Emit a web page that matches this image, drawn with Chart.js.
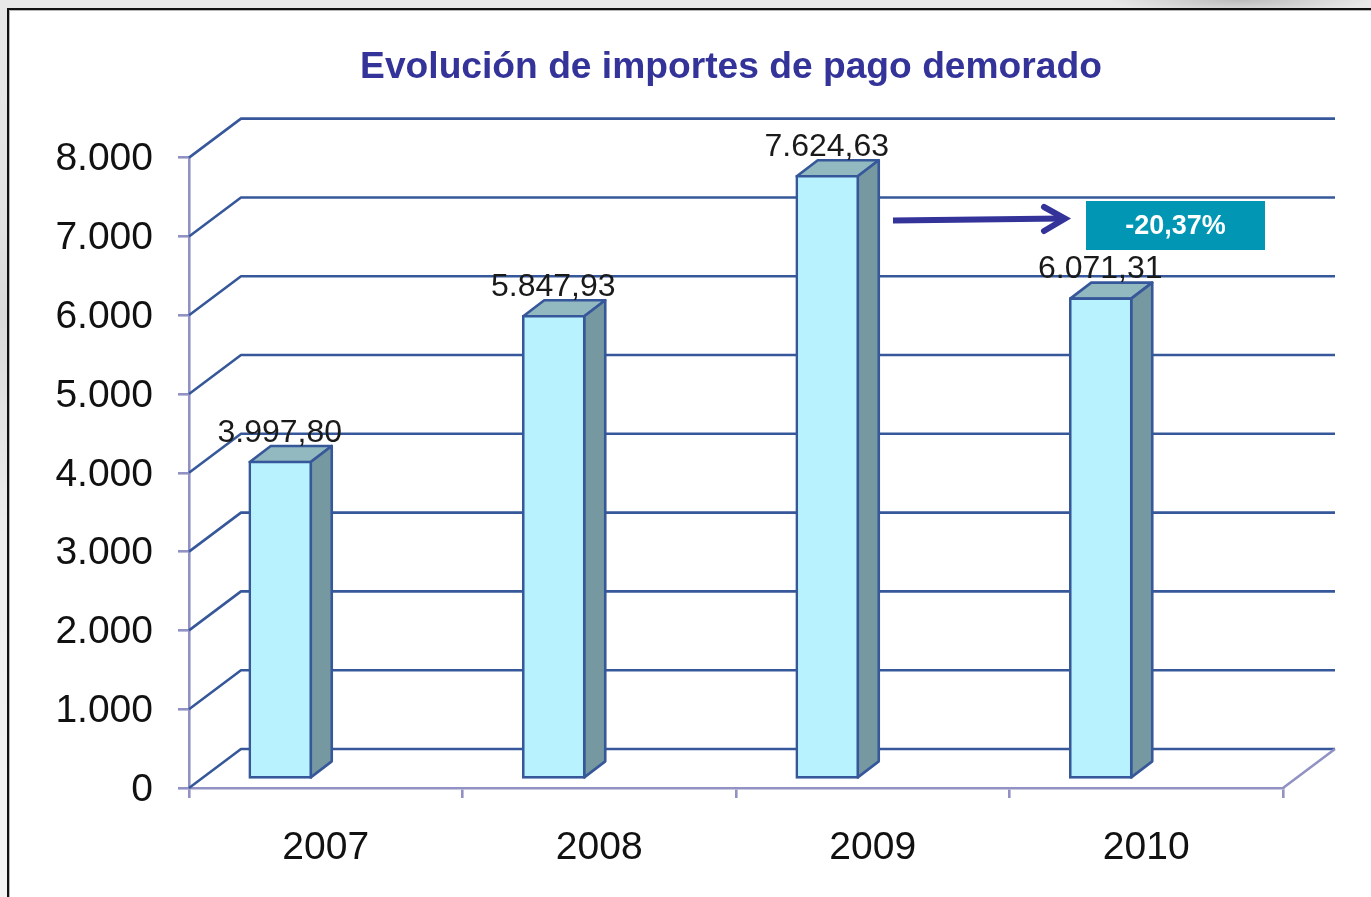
<!DOCTYPE html>
<html lang="es">
<head>
<meta charset="utf-8">
<title>Evolución de importes de pago demorado</title>
<style>
html,body{margin:0;padding:0;width:1371px;height:897px;overflow:hidden;}
body{position:relative;background:
  radial-gradient(ellipse 130px 14px at 1240px 0px,#bcbcbc 0%,rgba(188,188,188,0) 100%),
  linear-gradient(180deg,#e8e8e8 0%,#e2e2e2 25%,#dadada 35%,#eeeeee 60%,#f4f4f4 100%);}
#frame{position:absolute;left:7px;top:8px;right:-4px;bottom:-4px;background:#fff;border-left:2px solid #111;border-top:2px solid #111;box-shadow:inset 1px 1px 0 #b8b8b8;}
canvas{position:absolute;left:0;top:0;display:block;}
</style>
</head>
<body>
<div id="frame"></div>
<canvas id="c" width="1371" height="897"></canvas>
<script src="https://cdn.jsdelivr.net/npm/chart.js@4"></script>
<script>
const titleText = "Evolución de importes de pago demorado";
const categories = ["2007", "2008", "2009", "2010"];
const importes = [3997.80, 5847.93, 7624.63, 6071.31];
const yTickLabels = ["0", "1.000", "2.000", "3.000", "4.000", "5.000", "6.000", "7.000", "8.000"];
const changeLabel = "-20,37%";

const FONT = '"Liberation Sans", Arial, sans-serif';
const WALL = {dx: 52, dy: -39};
const BAR_SHIFT = {dx: -45.5, dy: -12};
const BAR_DEPTH = {dx: 21, dy: -16};
const LINE = "#36589a", AXIS = "#9191c4";

const fmt = v => v.toLocaleString("de-DE", {minimumFractionDigits: 2, maximumFractionDigits: 2});

const chart3d = {
  id: "chart3d",
  afterLayout(chart) {
    const t = chart.titleBlock;
    t.left = 731 - 500; t.right = 731 + 500;
  },
  beforeDraw(chart) {
    // nudge the value-axis labels down to sit where the reference has them
    const y = chart.scales.y;
    y.getLabelItems(chart.chartArea).forEach(item => {
      if (!item.nudged) { item.options.translation[1] += 2; item.nudged = true; }
    });
  },
  beforeDatasetsDraw(chart) {
    const {ctx, scales: {x, y}} = chart;
    ctx.save();
    ctx.lineWidth = 2.6; ctx.strokeStyle = LINE; ctx.lineJoin = "round";
    y.ticks.forEach(t => {
      const py = y.getPixelForValue(t.value);
      ctx.beginPath();
      ctx.moveTo(x.left, py);
      ctx.lineTo(x.left + WALL.dx, py + WALL.dy);
      ctx.lineTo(x.right + WALL.dx, py + WALL.dy);
      ctx.stroke();
    });
    ctx.strokeStyle = AXIS;
    const py0 = y.getPixelForValue(0);
    ctx.beginPath();
    ctx.moveTo(x.right, py0);
    ctx.lineTo(x.right + WALL.dx, py0 + WALL.dy);
    ctx.stroke();
    ctx.restore();
  },
  beforeDatasetDraw(chart, args) {
    const {ctx} = chart;
    const meta = chart.getDatasetMeta(args.index);
    ctx.save();
    ctx.translate(BAR_SHIFT.dx, BAR_SHIFT.dy);
    ctx.lineWidth = 2.6; ctx.strokeStyle = LINE; ctx.lineJoin = "round";
    meta.data.forEach(bar => {
      const r = bar.getProps(["x", "y", "base", "width"], true);
      const L = r.x - r.width / 2 + 1, R = r.x + r.width / 2 - 1, T = r.y + 1, B = r.base - 1;
      ctx.fillStyle = "#92b8c0";
      ctx.beginPath();
      ctx.moveTo(L, T);
      ctx.lineTo(L + BAR_DEPTH.dx, T + BAR_DEPTH.dy);
      ctx.lineTo(R + BAR_DEPTH.dx, T + BAR_DEPTH.dy);
      ctx.lineTo(R, T);
      ctx.closePath(); ctx.fill(); ctx.stroke();
      ctx.fillStyle = "#7698a1";
      ctx.beginPath();
      ctx.moveTo(R, T);
      ctx.lineTo(R + BAR_DEPTH.dx, T + BAR_DEPTH.dy);
      ctx.lineTo(R + BAR_DEPTH.dx, B + BAR_DEPTH.dy);
      ctx.lineTo(R, B);
      ctx.closePath(); ctx.fill(); ctx.stroke();
    });
    // the front faces are drawn by Chart.js inside this shifted context
  },
  afterDatasetDraw(chart) { chart.ctx.restore(); },
  afterDatasetsDraw(chart, args) {
    const {ctx} = chart;
    const meta = chart.getDatasetMeta(0);
    ctx.save();
    ctx.fillStyle = "#1a1a1a";
    ctx.font = "32px " + FONT;
    ctx.textAlign = "center"; ctx.textBaseline = "middle";
    meta.data.forEach((bar, i) => {
      ctx.fillText(fmt(importes[i]), bar.x + BAR_SHIFT.dx - 0.5, bar.y + BAR_SHIFT.dy - 28);
    });
    // change annotation
    ctx.strokeStyle = "#333399"; ctx.lineWidth = 6; ctx.lineCap = "butt";
    ctx.beginPath(); ctx.moveTo(893, 220.5); ctx.lineTo(1062, 218.5); ctx.stroke();
    ctx.lineCap = "round"; ctx.lineJoin = "miter"; ctx.lineWidth = 6;
    ctx.beginPath(); ctx.moveTo(1044, 207); ctx.lineTo(1065, 218.5); ctx.lineTo(1044, 231); ctx.stroke();
    ctx.fillStyle = "#0096b4";
    ctx.fillRect(1086, 201, 179, 49);
    ctx.fillStyle = "#ffffff";
    ctx.font = "bold 27px " + FONT;
    ctx.fillText(changeLabel, 1175.5, 226.5);
    ctx.restore();
  }
};

new Chart(document.getElementById("c"), {
  type: "bar",
  data: {
    labels: categories,
    datasets: [{
      label: "Importes",
      data: importes,
      backgroundColor: "#b8f2ff",
      borderColor: LINE,
      borderWidth: 2.6,
      borderSkipped: false,
      barThickness: 63,
      base: -30,
      clip: false
    }]
  },
  plugins: [chart3d],
  options: {
    responsive: false,
    animation: false,
    devicePixelRatio: 1,
    layout: {padding: {left: 0, right: 88, top: 0, bottom: 0}},
    plugins: {
      legend: {display: false},
      tooltip: {enabled: false},
      title: {
        display: true,
        text: titleText,
        color: "#333399",
        font: {family: FONT, size: 37.2, weight: "bold", lineHeight: 1.2},
        padding: {top: 45, bottom: 68}
      }
    },
    scales: {
      x: {
        afterFit(s) { s.height = 109; },
        grid: {drawOnChartArea: false, drawTicks: true, tickLength: 10, color: AXIS, lineWidth: 2.6},
        border: {color: AXIS, width: 2.6},
        ticks: {color: "#111111", font: {family: FONT, size: 39}, padding: 27, maxRotation: 0}
      },
      y: {
        min: 0, max: 8000,
        afterFit(s) { s.width = 189; },
        grid: {drawOnChartArea: false, drawTicks: true, tickLength: 11, color: AXIS, lineWidth: 2.6},
        border: {color: AXIS, width: 2.6},
        ticks: {
          stepSize: 1000,
          color: "#111111",
          font: {family: FONT, size: 39},
          padding: 25,
          callback: (v, i) => yTickLabels[i]
        }
      }
    }
  }
});
</script>
</body>
</html>
